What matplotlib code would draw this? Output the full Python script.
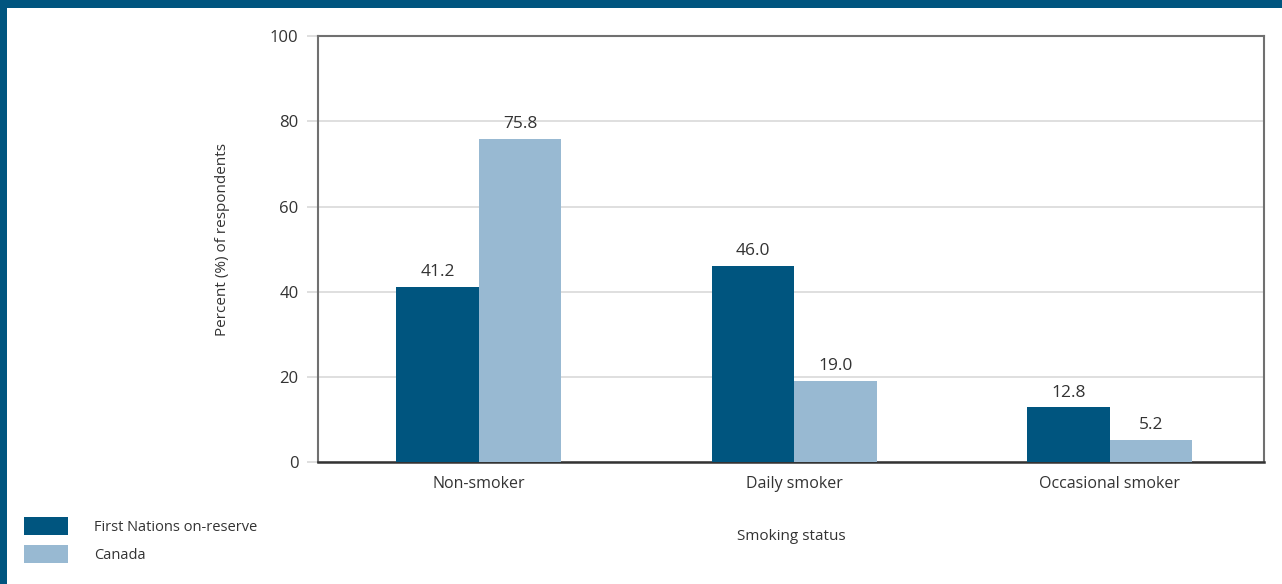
import numpy as np
import matplotlib.pyplot as plt
from matplotlib.patches import Rectangle

plt.rcParams['font.family'] = ['Open Sans', 'DejaVu Sans']

categories = ['Non-smoker', 'Daily smoker', 'Occasional smoker']
first_nations = [41.2, 46.0, 12.8]
canada = [75.8, 19.0, 5.2]
series_names = ['First Nations on-reserve', 'Canada']

dark = '#00557f'
light = '#98b9d2'
txt = '#333333'

fig = plt.figure(figsize=(12.82, 5.84), dpi=100)
ax = fig.add_axes([0.248, 0.209, 0.738, 0.729])

x = np.arange(len(categories))
w = 0.262
b1 = ax.bar(x - w / 2, first_nations, w, color=dark, label=series_names[0], zorder=3)
b2 = ax.bar(x + w / 2, canada, w, color=light, label=series_names[1], zorder=3)

for bars, vals in ((b1, first_nations), (b2, canada)):
    for r, v in zip(bars, vals):
        ax.annotate(f'{v:.1f}', (r.get_x() + r.get_width() / 2, v),
                    xytext=(0, 5), textcoords='offset points',
                    ha='center', va='bottom', fontsize=12.5, color=txt)

ax.set_xlim(-0.51, 2.49)
ax.set_ylim(0, 100)
ax.set_yticks(np.arange(0, 101, 20))
ax.set_xticks(x)
ax.set_xticklabels(categories)
ax.grid(axis='y', color='#d9d9d9', lw=1.2, zorder=0)
ax.tick_params(axis='y', length=8, color='#d9d9d9', width=1.2, pad=6,
               labelsize=12, labelcolor=txt)
ax.tick_params(axis='x', length=0, pad=10, labelsize=11.5, labelcolor=txt)

for s in ('left', 'right', 'top'):
    ax.spines[s].set_color('#707070')
    ax.spines[s].set_linewidth(1.5)
ax.spines['bottom'].set_color('#333333')
ax.spines['bottom'].set_linewidth(1.8)

ax.set_ylabel('Percent (%) of respondents', fontsize=11, color=txt)
ax.yaxis.set_label_coords(-0.093, 0.523)
ax.set_xlabel('Smoking status', fontsize=11, color=txt, labelpad=27)

fig.legend(handles=[b1, b2], loc='upper left', bbox_to_anchor=(0.0085, 0.137),
           frameon=False, fontsize=10.5, handlelength=3.0, handleheight=1.5,
           handletextpad=1.8, labelspacing=0.7, labelcolor=txt)

# page frame
fig.add_artist(Rectangle((0, 1 - 8 / 584), 1, 8 / 584, transform=fig.transFigure,
                         color=dark, lw=0))
fig.add_artist(Rectangle((0, 0), 7 / 1282, 1, transform=fig.transFigure,
                         color=dark, lw=0))

fig.savefig('out.png', dpi=100)
